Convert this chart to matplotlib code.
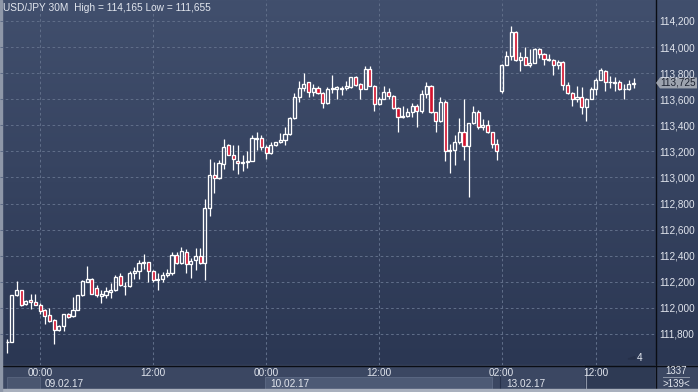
import matplotlib.pyplot as plt
import numpy as np
from matplotlib.patches import Rectangle, Polygon

plt.rcParams['font.family'] = ['Liberation Sans', 'DejaVu Sans']

# USD/JPY 30 minute candles, 09.02.17 - 13.02.17
opens = [
    111.735, 111.740, 112.095, 112.135, 112.030, 112.060, 112.045, 112.025, 111.980, 111.945,
    111.905, 111.830, 111.860, 111.950, 111.935, 111.985, 112.100, 112.200, 112.220, 112.150,
    112.090, 112.095, 112.125, 112.135, 112.245, 112.170, 112.165, 112.270, 112.280, 112.345,
    112.350, 112.285, 112.210, 112.220, 112.250, 112.265, 112.405, 112.345, 112.430, 112.340,
    112.370, 112.400, 112.345, 112.765, 113.020, 112.995, 113.105, 113.250, 113.170, 113.130,
    113.110, 113.115, 113.130, 113.295, 113.305, 113.230, 113.185, 113.250, 113.270, 113.290,
    113.335, 113.455, 113.615, 113.685, 113.730, 113.655, 113.690, 113.645, 113.570, 113.675,
    113.680, 113.680, 113.685, 113.695, 113.770, 113.715, 113.680, 113.835, 113.705, 113.560,
    113.605, 113.655, 113.625, 113.530, 113.460, 113.470, 113.500, 113.550, 113.510, 113.640,
    113.700, 113.500, 113.430, 113.575, 113.200, 113.210, 113.270, 113.350, 113.240, 113.415,
    113.500, 113.385, 113.405, 113.345, 113.255, 113.660, 113.865, 113.930, 114.115, 113.900,
    113.925, 113.865, 113.880, 113.985, 113.950, 113.910, 113.900, 113.865, 113.885, 113.710,
    113.650, 113.600, 113.620, 113.540, 113.605, 113.675, 113.750, 113.820, 113.730, 113.725,
    113.735, 113.675, 113.675, 113.720,
]
highs = [
    111.760, 112.100, 112.205, 112.140, 112.060, 112.105, 112.105, 112.040, 111.990, 112.000,
    111.915, 111.865, 111.955, 111.960, 112.085, 112.100, 112.215, 112.320, 112.230, 112.175,
    112.135, 112.160, 112.190, 112.250, 112.265, 112.200, 112.280, 112.315, 112.365, 112.415,
    112.355, 112.290, 112.265, 112.275, 112.295, 112.425, 112.425, 112.465, 112.455, 112.380,
    112.460, 112.460, 112.835, 113.140, 113.115, 113.135, 113.295, 113.255, 113.250, 113.250,
    113.170, 113.200, 113.325, 113.350, 113.325, 113.250, 113.275, 113.275, 113.340, 113.390,
    113.465, 113.645, 113.740, 113.800, 113.735, 113.720, 113.700, 113.655, 113.695, 113.785,
    113.700, 113.705, 113.740, 113.770, 113.775, 113.725, 113.855, 113.855, 113.710, 113.620,
    113.700, 113.685, 113.630, 113.540, 113.545, 113.535, 113.570, 113.560, 113.670, 113.735,
    113.710, 113.505, 113.615, 113.595, 113.260, 113.325, 113.455, 113.605, 113.420, 113.550,
    113.515, 113.445, 113.440, 113.350, 113.295, 113.870, 113.970, 114.165, 114.120, 113.960,
    114.000, 113.985, 113.990, 113.990, 113.955, 113.945, 113.905, 113.900, 113.890, 113.735,
    113.655, 113.700, 113.695, 113.610, 113.695, 113.760, 113.840, 113.825, 113.775, 113.770,
    113.745, 113.720, 113.750, 113.760,
]
lows = [
    111.655, 111.735, 112.090, 112.015, 112.025, 111.990, 112.020, 111.955, 111.880, 111.890,
    111.720, 111.825, 111.825, 111.925, 111.930, 111.980, 112.090, 112.195, 112.105, 112.080,
    112.035, 112.075, 112.075, 112.130, 112.170, 112.100, 112.160, 112.225, 112.225, 112.295,
    112.195, 112.200, 112.135, 112.200, 112.240, 112.250, 112.340, 112.335, 112.265, 112.230,
    112.290, 112.340, 112.215, 112.705, 112.880, 112.990, 113.065, 113.170, 113.055, 113.030,
    113.050, 113.070, 113.125, 113.210, 113.210, 113.145, 113.180, 113.245, 113.265, 113.250,
    113.325, 113.445, 113.575, 113.660, 113.615, 113.625, 113.640, 113.535, 113.565, 113.645,
    113.605, 113.635, 113.670, 113.690, 113.705, 113.605, 113.675, 113.700, 113.510, 113.555,
    113.600, 113.605, 113.525, 113.350, 113.455, 113.465, 113.460, 113.390, 113.495, 113.610,
    113.495, 113.350, 113.425, 113.130, 113.035, 113.095, 113.260, 113.135, 112.850, 113.410,
    113.370, 113.365, 113.340, 113.225, 113.135, 113.650, 113.860, 113.900, 113.895, 113.820,
    113.860, 113.850, 113.875, 113.920, 113.865, 113.895, 113.785, 113.830, 113.670, 113.640,
    113.550, 113.580, 113.490, 113.430, 113.600, 113.630, 113.745, 113.660, 113.685, 113.665,
    113.670, 113.600, 113.670, 113.685,
]
closes = [
    111.740, 112.095, 112.135, 112.025, 112.055, 112.045, 112.025, 111.975, 111.940, 111.900,
    111.830, 111.860, 111.950, 111.930, 111.985, 112.100, 112.205, 112.225, 112.110, 112.100,
    112.105, 112.130, 112.140, 112.240, 112.175, 112.165, 112.265, 112.285, 112.345, 112.350,
    112.285, 112.210, 112.225, 112.250, 112.270, 112.405, 112.345, 112.440, 112.340, 112.360,
    112.400, 112.345, 112.765, 113.020, 112.995, 113.110, 113.235, 113.175, 113.140, 113.110,
    113.120, 113.130, 113.300, 113.305, 113.230, 113.185, 113.250, 113.270, 113.290, 113.335,
    113.455, 113.615, 113.685, 113.720, 113.655, 113.690, 113.645, 113.570, 113.675, 113.690,
    113.695, 113.685, 113.700, 113.770, 113.710, 113.680, 113.835, 113.705, 113.560, 113.605,
    113.655, 113.625, 113.530, 113.465, 113.470, 113.500, 113.550, 113.510, 113.640, 113.700,
    113.500, 113.430, 113.575, 113.200, 113.210, 113.270, 113.350, 113.240, 113.415, 113.500,
    113.385, 113.400, 113.345, 113.255, 113.205, 113.865, 113.930, 114.115, 113.900, 113.925,
    113.865, 113.880, 113.985, 113.950, 113.905, 113.900, 113.865, 113.885, 113.710, 113.645,
    113.605, 113.620, 113.540, 113.605, 113.675, 113.750, 113.825, 113.730, 113.730, 113.735,
    113.675, 113.675, 113.715, 113.725,
]

price_ticks = [111.8, 112.0, 112.2, 112.4, 112.6, 112.8, 113.0, 113.2, 113.4, 113.6, 113.8, 114.0, 114.2]
time_ticks = [7, 31, 55, 79, 105, 125]
time_labels = ['00:00', '12:00', '00:00', '12:00', '02:00', '12:00']
date_ticks = [7, 55, 105]
date_labels = ['09.02.17', '10.02.17', '13.02.17']
last_price = 113.725
title = 'USD/JPY 30M  High = 114,165 Low = 111,655'

W, H = 698, 392
txt = '#e2e6ee'

fig = plt.figure(figsize=(W / 100, H / 100), dpi=100)

# background layer in pixel coordinates
bg = fig.add_axes([0, 0, 1, 1])
bg.set_axis_off()
top = np.array([0x41, 0x4f, 0x6d]) / 255
bot = np.array([0x2b, 0x37, 0x53]) / 255
g = np.linspace(0, 1, 256)[:, None, None]
bg.imshow(top + (bot - top) * g, aspect='auto', extent=[0, W, 27, H], zorder=0)
bg.add_patch(Rectangle((0, 0), W, 27, color='#3b4762', zorder=1))
bg.add_patch(Rectangle((7, 3), 33, 12, fc='#4a5670', ec='#56627c', lw=0.7, zorder=2))
bg.add_patch(Rectangle((265, 3), 227, 12, fc='#4d5a75', ec='#5a6782', lw=0.7, zorder=2))
bg.add_patch(Rectangle((585, 3), 70, 24, fc='#2e3a54', zorder=2))
bg.plot([585.5, 585.5], [3, 24], color='#8a93a5', lw=0.8, zorder=3)
bg.plot([500, 500], [3, 15], color='#27314a', lw=0.8, zorder=3)
bg.plot([655.5, 655.5], [0, H], color='#0a0d14', lw=1.0, zorder=4)
bg.plot([0, W], [26.5, 26.5], color='#0a0d14', lw=1.0, zorder=4)
bg.add_patch(Rectangle((0, 0), W, 3, color='#a9b0bd', zorder=5))
bg.add_patch(Rectangle((0, 0), 1.5, H, color='#8e97a8', zorder=5))
bg.set_xlim(0, W)
bg.set_ylim(0, H)

# bottom right counter
fig.text(676 / W, 1 - 371 / H, '1337', ha='center', va='center', fontsize=7, color=txt)
bg.plot([663, 689], [H - 377, H - 377], color='#8c95a6', lw=0.7, zorder=5)
fig.text(676 / W, 1 - 384 / H, '>139<', ha='center', va='center', fontsize=7, color=txt)

# main chart
ax = fig.add_axes([0, 27 / H, 655 / W, 365 / H])
ax.set_facecolor('none')
ymin, ymax = 111.562, 114.361
ax.set_xlim(-7.1 / 4.71, (655 - 7.1) / 4.71)
ax.set_ylim(ymin, ymax)
for s in ax.spines.values():
    s.set_visible(False)

ax.set_yticks(price_ticks)
ax.set_yticklabels([f'{p:.3f}'.replace('.', ',') for p in price_ticks])
ax.yaxis.tick_right()
ax.set_xticks(time_ticks)
ax.set_xticklabels(time_labels)
ax.tick_params(length=0, labelsize=7.2, colors=txt)
ax.tick_params(axis='y', pad=3)
ax.tick_params(axis='x', pad=2.5)
ax.grid(True, color='#5f6d88', linestyle=(0, (2.5, 2.5)), linewidth=0.75)
ax.set_axisbelow(True)

for d, lab in zip(date_ticks, date_labels):
    ax.annotate(lab, xy=(d, 0), xycoords=('data', 'axes fraction'),
                xytext=(3, -13.7), textcoords='offset points',
                ha='left', va='center', fontsize=7.2, color=txt)

o = np.array(opens)
h = np.array(highs)
l = np.array(lows)
c = np.array(closes)
x = np.arange(len(o))
body_top = np.maximum(o, c)
body_bot = np.minimum(o, c)
ax.vlines(x, body_top, h, color='white', lw=0.9, zorder=3)
ax.vlines(x, l, body_bot, color='white', lw=0.9, zorder=3)
down = c < o
fills = np.where(down, '#d4122e', 'none')
ax.bar(x, np.maximum(body_top - body_bot, 0.0005), bottom=body_bot, width=0.66,
       color=list(fills), edgecolor='white', linewidth=0.95, zorder=4)

ax.text(0.005, 1 - 8 / 365, title, transform=ax.transAxes, ha='left', va='center',
        fontsize=7.3, color=txt)

# small counter at bottom right of the chart
ax.text(640 / 655, 7 / 365, '4', transform=ax.transAxes, ha='center', va='center',
        fontsize=7.2, color=txt)
ax.add_patch(Polygon([[628 / 655, 6 / 365], [635 / 655, 8.5 / 365], [635 / 655, 6 / 365]],
                     closed=True, transform=ax.transAxes, color='#26304a'))

# last price marker
yp = 27 + (last_price - ymin) / (ymax - ymin) * 365
bg.add_patch(Polygon([[656, yp], [660, yp + 5.5], [697, yp + 5.5], [697, yp - 5.5], [660, yp - 5.5]],
                     closed=True, fc='#9da3ae', ec='none', zorder=6))
bg.text(678.5, yp, f'{last_price:.3f}'.replace('.', ','), ha='center', va='center',
        fontsize=7.2, color='#1b2130', zorder=7)

fig.savefig('out.png', dpi=100)
